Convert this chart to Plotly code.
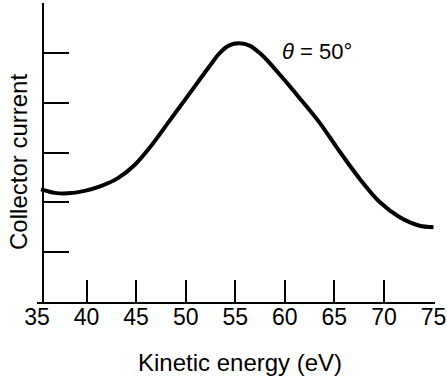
import plotly.graph_objects as go

energy = [35.4, 36.8, 38.1, 39.8, 41.5, 43.2, 44.9, 46.5, 48.2, 49.9, 51.4, 52.4,
          53.4, 54.4, 55.4, 56.5, 57.5, 58.5, 59.5, 60.5, 61.5, 63.5, 65.6, 67.6,
          69.6, 71.6, 73.6, 75.0]
current = [2.26, 2.19, 2.18, 2.23, 2.33, 2.49, 2.76, 3.13, 3.59, 4.05, 4.46, 4.73,
           4.99, 5.15, 5.19, 5.14, 4.99, 4.79, 4.56, 4.33, 4.09, 3.60, 3.00, 2.46,
           2.00, 1.70, 1.53, 1.50]
x_tick_vals = [35, 40, 45, 50, 55, 60, 65, 70, 75]
x_tick_marks = [40, 45, 50, 55, 60, 65, 70]
y_tick_vals = [1, 2, 3, 4, 5]
label_text = "<i>θ</i> = 50°"

font = "Liberation Sans, Arial, sans-serif"

fig = go.Figure()
fig.add_trace(go.Scatter(x=energy, y=current, mode="lines",
                         line=dict(color="black", width=4, shape="spline", smoothing=0.8),
                         showlegend=False, hoverinfo="skip"))

fig.update_layout(
    width=447, height=378,
    margin=dict(l=37, r=12, t=3, b=76),
    paper_bgcolor="white", plot_bgcolor="white",
    showlegend=False,
    xaxis=dict(range=[35, 75.15], tickvals=x_tick_vals, ticks="",
               showline=True, linecolor="black", linewidth=2, showgrid=False, zeroline=False,
               tickfont=dict(family=font, size=23, color="black"), automargin=False,
               ticklabelstandoff=-7,
               minor=dict(tickvals=x_tick_marks, ticks="inside", ticklen=22, tickwidth=2,
                          tickcolor="black", showgrid=False)),
    yaxis=dict(range=[0, 6], tickvals=y_tick_vals, ticks="inside", ticklen=25, tickwidth=2,
               tickcolor="black", showticklabels=False, anchor="free", position=0.015,
               showline=True, linecolor="black", linewidth=2, showgrid=False, zeroline=False),
    annotations=[
        dict(text="Kinetic energy (eV)", xref="paper", yref="paper", x=0.51, y=-0.204,
             xanchor="center", yanchor="middle", showarrow=False,
             font=dict(family=font, size=24, color="black")),
        dict(text="Collector current", xref="paper", yref="paper", x=-0.048, y=0.468,
             xanchor="center", yanchor="middle", textangle=-90, showarrow=False,
             font=dict(family=font, size=24, color="black")),
        dict(text=label_text, xref="x", yref="y", x=59.5, y=5.02,
             xanchor="left", yanchor="middle", showarrow=False,
             font=dict(family=font, size=22, color="black")),
    ],
)

fig.write_html("out.html", config={"displayModeBar": False},
               post_script="document.body.style.margin='0';")
